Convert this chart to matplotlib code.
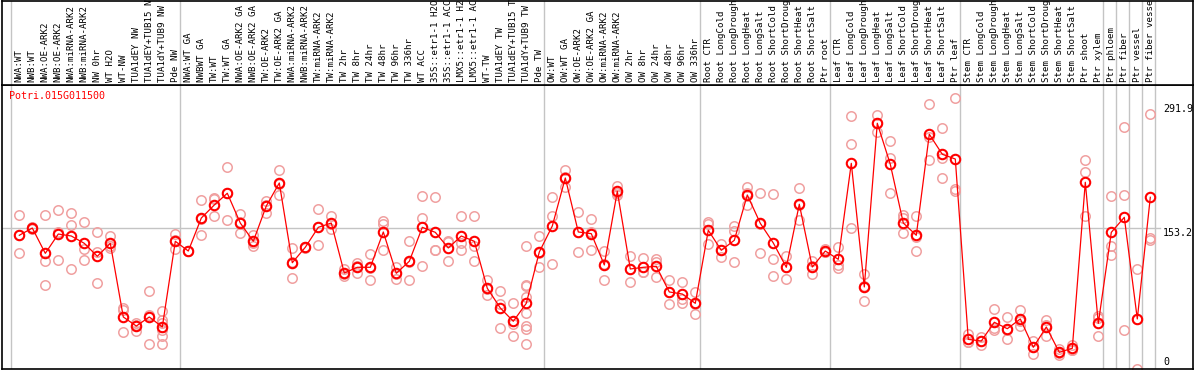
import numpy as np
import matplotlib
matplotlib.use("Agg")
import matplotlib.pyplot as plt
import matplotlib.transforms as mtransforms

W, H = 1194, 370

title = "Potri.015G011500"

labels = [
    "NWA:WT", "NWB:WT", "NWA:OE-ARK2", "NWB:OE-ARK2", "NWA:miRNA-ARK2", "NWB:miRNA-ARK2",
    "NW 0hr", "WT H2O", "WT-NW", "TUA1dEY NW", "TUA1dEY+TUB15 NW", "TUA1dY+TUB9 NW", "Pde NW",
    "NWA:WT GA", "NWBWT GA", "TW:WT", "TW:WT GA", "NWA:OE-ARK2 GA", "NWB:OE-ARK2 GA",
    "TW:OE-ARK2", "TW:OE-ARK2 GA", "NWA:miRNA-ARK2 GA", "NWB:miRNA-ARK2 GA", "TW:miRNA-ARK2",
    "TW:miRNA-ARK2", "TW 2hr", "TW 8hr", "TW 24hr", "TW 48hr", "TW 96hr", "TW 336hr", "WT ACC",
    "35S::etr1-1 H2O", "35S::etr1-1 ACC", "LMX5::etr1-1 H2O", "LMX5::etr1-1 ACC", "WT-TW",
    "TUA1dEY TW", "TUA1dEY+TUB15 TW", "TUA1dY+TUB9 TW", "Pde TW",
    "OW:WT", "OW:WT GA", "OW:OE-ARK2", "OW:OE-ARK2 GA", "OW:miRNA-ARK2", "OW:miRNA-ARK2",
    "OW 2hr", "OW 8hr", "OW 24hr", "OW 48hr", "OW 96hr", "OW 336hr",
    "Root CTR", "Root LongCold", "Root LongDrought", "Root LongHeat", "Root LongSalt",
    "Root ShortCold", "Root ShortDrought", "Root ShortHeat", "Root ShortSalt", "Ptr root",
    "Leaf CTR", "Leaf LongCold", "Leaf LongDrought", "Leaf LongHeat", "Leaf LongSalt",
    "Leaf ShortCold", "Leaf ShortDrought", "Leaf ShortHeat", "Leaf ShortSalt", "Ptr leaf",
    "Stem CTR", "Stem LongCold", "Stem LongDrought", "Stem LongHeat", "Stem LongSalt",
    "Stem ShortCold", "Stem ShortDrought", "Stem ShortHeat", "Stem ShortSalt", "Ptr shoot",
    "Ptr xylem", "Ptr phloem", "Ptr fiber", "Ptr vessel", "Ptr fiber vessel",
]

means = [145.1, 153.2, 124.9, 146.5, 144.3, 136.1, 121.6, 136.1, 53.7, 43.6, 53.7, 42.5, 138.4,
         127.5, 164.4, 179.0, 192.1, 158.8, 138.4, 177.9, 203.6, 114.4, 131.7, 154.0, 158.8,
         102.9, 109.3, 109.3, 148.8, 102.6, 116.0, 154.0, 148.4, 130.9, 144.3, 138.4, 85.8,
         63.8, 48.9, 69.0, 126.4,
         155.5, 209.2, 148.8, 146.9, 111.9, 194.3, 107.4, 109.3, 110.4, 81.7, 79.4, 69.0,
         150.7, 128.3, 139.5, 190.2, 158.5, 136.5, 109.3, 179.8, 109.6, 127.5,
         118.2, 225.6, 87.3, 270.4, 224.5, 158.8, 145.1, 258.1, 235.7, 230.4,
         28.7, 26.8, 47.8, 40.6, 51.5, 19.8, 42.5, 14.2, 18.7, 204.4,
         46.6, 148.4, 165.2, 51.5, 187.6]

reps = [
    [167.5, 145.0, 124.9], [154.0, 153.2, 152.5], [167.5, 116.7, 89.2], [173.0, 148.7, 117.8],
    [169.7, 156.3, 107.0], [159.6, 130.1, 117.1], [148.8, 126.4, 91.7], [144.3, 133.1, 130.9],
    [63.3, 61.2, 36.6], [47.3, 45.0, 38.4], [82.8, 56.3, 23.2],
    [60.4, 50.0, 47.0, 38.8, 32.4, 23.2], [146.5, 139.3, 129.4],
    [128.0, 127.5, 127.0], [184.6, 163.2, 145.4], [186.8, 186.0, 166.7], [221.5, 192.9, 161.9],
    [168.9, 159.8, 147.7], [145.1, 136.7, 133.4], [183.8, 179.5, 170.4], [218.1, 202.9, 189.8],
    [130.5, 115.7, 97.0], [132.0, 131.7, 131.4], [174.2, 153.9, 133.9], [166.7, 157.9, 151.8],
    [107.4, 102.0, 99.2], [114.4, 110.3, 103.2], [124.2, 109.0, 94.7], [161.4, 157.7, 128.3],
    [109.6, 101.7, 96.5], [138.4, 114.9, 94.7], [189.0, 164.4, 110.4], [187.9, 129.0, 128.3],
    [138.7, 138.0, 116.0], [166.7, 136.8, 128.3], [166.7, 132.8, 116.3], [94.7, 84.7, 78.0],
    [82.8, 68.2, 41.4], [69.4, 45.9, 32.4],
    [133.1, 89.8, 88.0, 76.1, 57.8, 44.0, 40.3, 23.2], [144.3, 125.3, 109.6],
    [187.9, 166.7, 113.0], [218.1, 210.4, 199.1], [170.8, 149.2, 126.4], [163.3, 148.4, 129.0],
    [127.5, 113.5, 94.7], [200.2, 192.9, 189.8], [122.3, 107.1, 92.8], [119.7, 104.5, 103.7],
    [118.9, 115.2, 98.1], [95.1, 81.8, 68.2], [92.8, 73.8, 69.4], [81.7, 68.6, 56.7],
    [160.0, 158.1, 135.4], [135.7, 128.7, 120.5], [155.8, 149.6, 115.2], [199.1, 192.5, 179.0],
    [192.1, 158.1, 125.3], [190.9, 118.2, 99.6], [122.3, 109.7, 95.9], [198.0, 179.5, 161.9],
    [116.0, 111.3, 101.5], [130.1, 126.5, 126.0],
    [132.0, 112.2, 108.2], [278.5, 247.2, 153.2], [101.8, 88.8, 71.3], [279.7, 270.5, 261.0],
    [250.2, 231.9, 192.1], [168.1, 164.4, 147.7], [166.7, 142.8, 127.2], [291.9, 255.4, 229.0],
    [264.8, 231.9, 209.2], [298.7, 196.9, 194.3],
    [34.7, 25.7, 25.7], [31.0, 27.4, 22.0], [62.6, 41.1, 39.7], [53.7, 39.4, 28.7],
    [61.5, 49.0, 44.0], [27.2, 19.6, 12.6], [50.3, 44.4, 32.8], [17.6, 13.8, 11.2],
    [22.7, 17.0, 16.4], [229.3, 215.6, 167.0],
    [54.8, 52.6, 32.1], [188.7, 132.8, 122.7], [265.9, 189.8, 38.8], [107.0, 52.0, -4.5],
    [280.8, 142.1, 139.5],
]

group_starts = [0, 13, 41, 53, 63, 73, 84, 85, 86, 87, 88]
ytick_vals = [291.9, 153.2, 0]
ref_line = 153.2

mono = "DejaVu Sans Mono"


def px_rect(x0, y0, x1, y1):
    return [x0 / W, 1 - y1 / H, (x1 - x0) / W, (y1 - y0) / H]


fig = plt.figure(figsize=(W / 100, H / 100), dpi=100)
ax = fig.add_axes(px_rect(1.5, 85, 1193, 369))
lab = fig.add_axes(px_rect(1.5, 0.5, 1193, 85), sharex=ax)

# index i sits at 19.3 + 13*i px
ax.set_xlim((1.5 - 19.3) / 13, (1193 - 19.3) / 13)
ax.set_ylim(-4.47, 313.2)
lab.set_ylim(0, 1)

for a in (ax, lab):
    a.set_xticks([])
    a.set_yticks([])
    for s in a.spines.values():
        s.set_color("black")
        s.set_linewidth(1.2)

grid_c = "#c4c4c4"
for g in group_starts:
    ax.axvline(g - 0.615, color=grid_c, lw=1.0, zorder=1)
    lab.axvline(g - 0.615, color=grid_c, lw=1.0, zorder=1)
ax.axhline(ref_line, xmin=0, xmax=(1160 - 1.5) / 1191.5, color=grid_c, lw=1.0, zorder=1)

x = np.arange(len(means))
rx = np.concatenate([[i] * len(r) for i, r in enumerate(reps)])
ry = np.concatenate(reps)
ax.plot(rx, ry, ls="none", marker="o", ms=6.8, mfc="none", mec="#f0a0a0", mew=1.1,
        zorder=2, clip_on=True)
ax.plot(x, means, color="#ff0000", lw=0.9, zorder=3)
ax.plot(x, means, ls="none", marker="o", ms=6.8, mfc="none", mec="#ff0000", mew=1.5, zorder=4)

for i, t in enumerate(labels):
    lab.text(i, 0.035, t, rotation=90, ha="center", va="bottom", fontsize=6.6,
             family=mono, color="black")

tr = mtransforms.blended_transform_factory(ax.transAxes, ax.transData)
xt = (1163 - 1.5) / 1191.5
for v in ytick_vals:
    if v == 0:
        ax.text(xt, v, "0", transform=tr, ha="left", va="baseline", fontsize=7.2, family=mono)
    else:
        ax.text(xt, v, f"{v}", transform=tr, ha="left", va="top", fontsize=7.2, family=mono)

fig.text(9.5 / W, 1 - 91 / H, title, ha="left", va="top", fontsize=7.2, family=mono,
         color="#ff0000")

fig.savefig("out.png", dpi=100)
